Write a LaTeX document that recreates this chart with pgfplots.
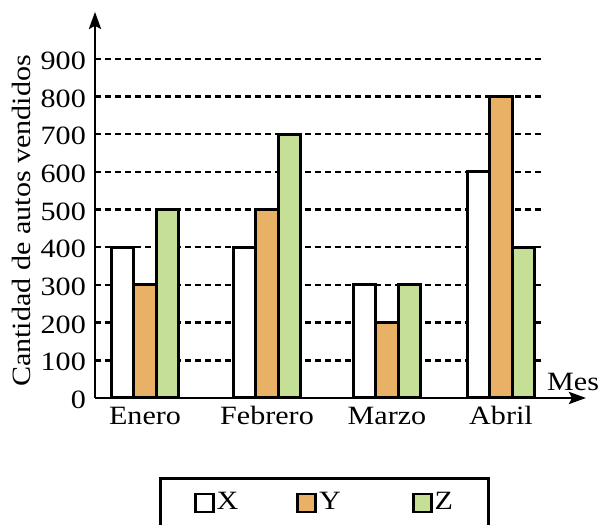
\documentclass[border=0pt]{standalone}
\usepackage{fontspec}
\setmainfont[FakeStretch=1.14]{Liberation Serif}
\usepackage{pgfplots}
\pgfplotsset{compat=1.18}
\usetikzlibrary{arrows.meta}

\definecolor{barY}{HTML}{E9B165}
\definecolor{barZ}{HTML}{C6DF97}

\tikzset{barline/.style={draw=black, line width=3bp}}

\begin{document}
\fontsize{26.5}{31}\selectfont
\begin{tikzpicture}
\begin{axis}[
  x=1bp, y=0.3767bp,
  xmin=95, xmax=542,
  ymin=0, ymax=1025,
  axis x line*=bottom,
  axis y line*=left,
  axis line style={draw=none},
  clip=false,
  ytick={0,100,...,900},
  xtick={145,267,387,501},
  xticklabels={Enero,Febrero,Marzo,Abril},
  major tick length=0pt,
  ymajorgrids,
  major grid style={line width=2.4bp, black, dash pattern=on 6bp off 4bp},
  /pgf/number format/assume math mode=true,
  yticklabel style={anchor=east, inner sep=0pt, xshift=-9bp, yshift=-2bp},
  xticklabel style={anchor=base, inner sep=0pt, yshift=-27bp},
  xlabel={Mes},
  xlabel style={at={(axis cs:547,21)}, anchor=base west, inner sep=0pt},
  ylabel={Cantidad de autos vendidos},
  ylabel style={at={(axis cs:21,470)}, anchor=center, inner sep=0pt},
  ybar, bar width=22.5,
  legend columns=3,
  legend style={at={(axis cs:324.5,-209.7)}, anchor=north,
    draw=black, line width=2.8bp, inner xsep=33bp, inner ysep=12bp,
    nodes={inner sep=2bp},
    /tikz/column 2/.style={column sep=56bp},
    /tikz/column 4/.style={column sep=69bp}},
  legend image code/.code={\draw[#1, line width=2.8bp] (0bp,-9bp) rectangle (18bp,9bp);},
]
\addplot[barline, fill=white, bar shift=-22.5] coordinates {(145,400) (267,400) (387,300) (501,600)};
\addplot[barline, fill=barY, bar shift=0] coordinates {(145,300) (267,500) (387,200) (501,800)};
\addplot[barline, fill=barZ, bar shift=22.5] coordinates {(145,500) (267,700) (387,300) (501,400)};
\legend{X,Y,Z}
% axis lines with arrow heads
\draw[line width=2.8bp, -{Stealth[length=17bp,width=12bp,inset=3bp]}]
  (axis cs:95,0) -- (axis cs:586,0);
\draw[line width=2.8bp, -{Stealth[length=17bp,width=12bp,inset=3bp]}]
  (axis cs:95,0) -- (axis cs:95,1025);
\coordinate (bl) at (axis cs:0,-337.1);
\coordinate (tr) at (axis cs:598,1056.5);
\end{axis}
\pgfresetboundingbox
\useasboundingbox (bl) rectangle (tr);
\end{tikzpicture}
\end{document}
